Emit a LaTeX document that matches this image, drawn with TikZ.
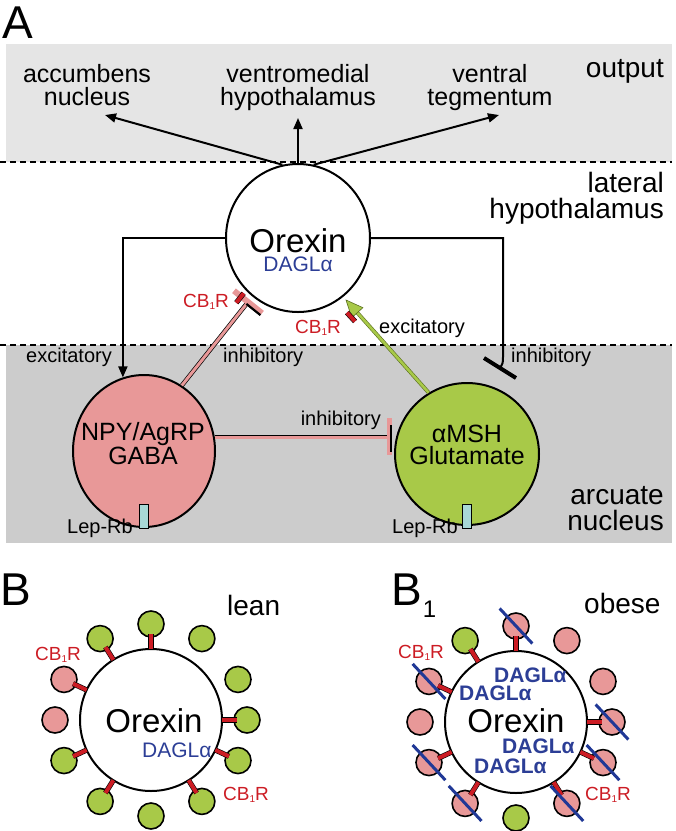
\documentclass[tikz,border=0pt]{standalone}
\usepackage{fontspec}
\setmainfont{Liberation Sans}
\usetikzlibrary{arrows.meta,shapes.geometric,calc}

\definecolor{lightband}{RGB}{229,229,229}
\definecolor{darkband}{RGB}{204,204,204}
\definecolor{npypink}{RGB}{232,152,152}
\definecolor{mshgreen}{RGB}{168,201,72}
\definecolor{greenedge}{RGB}{90,110,30}
\definecolor{cbred}{RGB}{204,28,36}
\definecolor{daglblue}{RGB}{44,62,150}
\definecolor{strikeblue}{RGB}{32,56,150}
\definecolor{leprb}{RGB}{168,216,214}

\newcommand{\fsz}[2]{\fontsize{#1}{#2}\selectfont}
\newcommand{\cbr}{CB{\fsz{10}{10}\raisebox{-2.5pt}{1}}R}

\tikzset{
    cell/.style={ellipse, draw, line width=2pt, inner sep=0pt},
    bigcell/.style={circle, draw, fill=white, line width=2pt, minimum size=142pt, inner sep=0pt},
    smalldot/.style={circle, draw, line width=1.6pt, minimum size=26pt, inner sep=0pt},
    conn/.style={line width=2pt},
    pinkline/.style={line width=0.7pt, double=npypink, double distance=3pt},
    stubline/.style={line width=0.6pt, double=cbred, double distance=4pt},
    strike/.style={strikeblue, line width=3pt},
    boundary/.style={dash pattern=on 6pt off 4pt, line width=2pt},
    region/.style={font=\fsz{28}{26}, inner sep=0pt},
    target/.style={font=\fsz{25}{23}, align=center, anchor=base, inner sep=0pt},
    smalltext/.style={font=\fsz{20}{20}, inner sep=0pt},
    cbtext/.style={font=\fsz{19}{19}, text=cbred, inner sep=0pt},
    dagl/.style={font=\fsz{21}{21}, text=daglblue, inner sep=0pt},
    cellname/.style={font=\fsz{25}{22}, align=center, anchor=base, inner sep=0pt},
}

\begin{document}
\begin{tikzpicture}[x=1pt,y=-1pt]
    \useasboundingbox (0,0) rectangle (676,831);

    % panel A: regions
    \fill[lightband] (6,44) rectangle (672,162);
    \fill[darkband] (6,345) rectangle (672,543);
    \draw[boundary] (0,162) -- (672,162);
    \draw[boundary] (0,345) -- (672,345);

    \node[font=\fsz{46}{46}, anchor=base west, inner sep=0pt] (labA) at (2,38) {A};
    \node[region, anchor=base east] (outp) at (664,77) {output};
    \node[region, anchor=base east, align=right] (lathyp) at (664,218) {lateral\\hypothalamus};
    \node[region, anchor=base east, align=right] (arcnuc) at (664,530) {arcuate\\nucleus};

    \node[target] (acc) at (87,105) {accumbens\\nucleus};
    \node[target] (vmh) at (298,105) {ventromedial\\hypothalamus};
    \node[target] (vta) at (490,105) {ventral\\tegmentum};

    % cells
    \node[cell, fill=white, minimum width=144pt, minimum height=148pt] (orx) at (298,238) {};
    \node[cell, fill=npypink, minimum width=142pt, minimum height=152pt] (npy) at (144,451) {};
    \node[cell, fill=mshgreen, minimum width=144pt, minimum height=142pt] (msh) at (467,454) {};

    \node[font=\fsz{33}{33}, anchor=base, inner sep=0pt] (orxname) at (298,252) {Orexin};
    \node[dagl, anchor=base] (orxdagl) at (298,271) {DAGLα};
    \node[cellname] (npyname) at (143,464) {NPY/AgRP\\GABA};
    \node[cellname] (mshname) at (467,464) {αMSH\\Glutamate};

    % outputs
    \coordinate (accT) at (105,115);
    \coordinate (vmhT) at (298,118);
    \coordinate (vtaT) at (499,115);
    \foreach \a/\t in {102/accT, 90/vmhT, 78/vtaT}
        \draw[conn, -{Triangle[length=11pt,width=9pt]}] (orx.\a) -- (\t);

    % orexin -> NPY, orexin -| aMSH
    \draw[conn, -{Triangle[length=11pt,width=9pt]}] (orx.west) -| (npy.106);
    \coordinate (mshbend) at (503,356);
    \coordinate (mshbar) at (500,368);
    \draw[conn] (orx.east) -| (mshbend) .. controls (503,363) .. (mshbar);
    \draw[line width=4pt] ($(mshbar)+(-16,-10)$) -- ($(mshbar)+(16,10)$);

    % NPY -| orexin
    \coordinate (orxbar) at (248,302);
    \draw[pinkline] (npy.60) -- (orxbar);
    \draw[npypink, line width=6pt] ($(orxbar)+(-14,-11.2)$) -- ($(orxbar)+(14,11.2)$);
    \draw[line width=2.2pt] ($(orxbar)+(-1.6,1.9)$) -- ($(orxbar)+(12.4,13.1)$);
    \draw[stubline] (236.3,302.7) -- (243.7,293.3);

    % NPY -| aMSH
    \coordinate (mshbar2) at (389,437);
    \draw[pinkline] (npy.11) -- (npy.11 -| mshbar2);
    \draw[npypink, line width=5pt] ($(mshbar2)+(0,-19)$) -- ($(mshbar2)+(0,18)$);
    \draw[line width=1.8pt] ($(mshbar2)+(2,-12)$) -- ($(mshbar2)+(2,15)$);

    % aMSH -> orexin
    \coordinate (orxtip) at (346,300);
    \coordinate (gbase) at ($(orxtip)!17pt!(msh.122)$);
    \draw[line width=0.6pt, draw=greenedge, double=mshgreen, double distance=2.6pt] (msh.122) -- ($(orxtip)!14pt!(msh.122)$);
    \draw[line width=0.6pt, draw=greenedge, fill=mshgreen] (orxtip) -- ($(gbase)!7.5pt!90:(orxtip)$) -- ($(gbase)!7.5pt!-90:(orxtip)$) -- cycle;
    \draw[stubline] (347,312.6) -- (355,321.4);

    % leptin receptors
    \draw[line width=1pt, fill=leprb] ($(npy.south)+(-4.5,0)$) rectangle ($(npy.south)+(4.5,-24)$);
    \draw[line width=1pt, fill=leprb] ($(msh.south)+(-4.5,2)$) rectangle ($(msh.south)+(4.5,-22)$);
    \node[smalltext, anchor=base east] (lepnpy) at (133,533) {Lep-Rb};
    \node[smalltext, anchor=base east] (lepmsh) at (458,533) {Lep-Rb};

    \node[smalltext, anchor=base east] (excleft) at (112,362) {excitatory};
    \node[smalltext, anchor=base west] (inhleft) at (223,362) {inhibitory};
    \node[smalltext, anchor=base west] (inhright) at (511,362) {inhibitory};
    \node[smalltext, anchor=base east] (inhmid) at (381,425) {inhibitory};
    \node[smalltext, anchor=base west] (excgreen) at (379,333) {excitatory};
    \node[cbtext, anchor=base west] (cbleft) at (183,307) {\cbr};
    \node[cbtext, anchor=base west] (cbgreen) at (295,333) {\cbr};

    % panel B: lean
    \node[font=\fsz{46}{46}, anchor=base west, inner sep=0pt] (labB) at (0,605) {B};
    \node[region, anchor=base west] (lean) at (227,615) {lean};
    \begin{scope}[shift={(151,720)}, yscale=-1]
        \foreach \a/\c [count=\i] in {90/mshgreen, 58/mshgreen, 25/mshgreen, 0/mshgreen,
                -25/mshgreen, -58/mshgreen, -90/mshgreen, -122/mshgreen, -155/mshgreen,
                180/npypink, 155/npypink, 122/mshgreen}
            \node[smalldot, fill=\c] (lean\i) at (\a:96) {};
        \node[bigcell] (orxlean) at (0,0) {};
        \foreach \a in {90,122,155,0,-25,-58,-122,-155}
            \draw[stubline] (\a:71) -- (\a:86);
    \end{scope}
    \node[font=\fsz{33}{33}, anchor=base, inner sep=0pt] (orxleanname) at (154,732) {Orexin};
    \node[dagl, anchor=base west] (daglean) at (142,757) {DAGLα};
    \node[cbtext, anchor=base west] (cblean1) at (35,660) {\cbr};
    \node[cbtext, anchor=base west] (cblean2) at (223,800) {\cbr};

    % panel B1: obese
    \node[font=\fsz{46}{46}, anchor=base west, inner sep=0pt] (labBone) at (391,605) {B\kern1pt\raisebox{-12pt}{\fsz{24}{24}1}};
    \node[region, anchor=base west] (obese) at (584,613) {obese};
    \begin{scope}[shift={(516,722)}, yscale=-1]
        \foreach \a/\c [count=\i] in {90/npypink, 58/npypink, 25/npypink, 0/npypink,
                -25/npypink, -58/npypink, -90/mshgreen, -122/npypink, -155/npypink,
                180/npypink, 155/npypink, 122/mshgreen}
            \node[smalldot, fill=\c] (obese\i) at (\a:96) {};
        \node[bigcell] (orxobese) at (0,0) {};
        \foreach \a in {90,122,155,0,-25,-58,-122,-155}
            \draw[stubline] (\a:71) -- (\a:86);
        \foreach \a in {90,155,0,-25,-58,-122,-155}
            \draw[strike] ($(\a:96)+(133:24)$) -- ($(\a:96)+(-47:24)$);
    \end{scope}
    \node[font=\fsz{33}{33}, anchor=base, inner sep=0pt] (orxobesename) at (516,732) {Orexin};
    \node[dagl, font=\fsz{21}{21}\bfseries, anchor=base west] (dagl1) at (494,682) {DAGLα};
    \node[dagl, font=\fsz{21}{21}\bfseries, anchor=base west] (dagl2) at (459,700) {DAGLα};
    \node[dagl, font=\fsz{21}{21}\bfseries, anchor=base west] (dagl3) at (502,753) {DAGLα};
    \node[dagl, font=\fsz{21}{21}\bfseries, anchor=base west] (dagl4) at (474,773) {DAGLα};
    \node[cbtext, anchor=base west] (cbobese1) at (398,658) {\cbr};
    \node[cbtext, anchor=base west] (cbobese2) at (585,800) {\cbr};
\end{tikzpicture}
\end{document}
